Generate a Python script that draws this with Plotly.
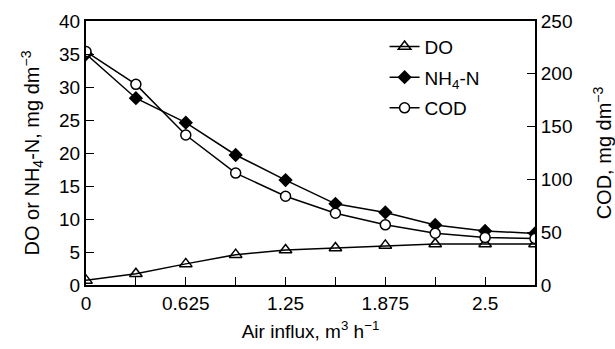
import plotly.graph_objects as go

air_influx = [0, 0.3125, 0.625, 0.9375, 1.25, 1.5625, 1.875, 2.1875, 2.5, 2.8125]
do_vals = [0.7, 1.7, 3.2, 4.6, 5.3, 5.6, 6.0, 6.2, 6.2, 6.2]
nh4_vals = [35.0, 28.3, 24.6, 19.7, 15.9, 12.3, 11.0, 9.1, 8.2, 7.8]
cod_vals = [221, 190, 142, 106, 84, 68, 57, 49, 45, 44]

x_tickvals = [0, 0.625, 1.25, 1.875, 2.5]
x_ticktext = ["0", "0.625", "1.25", "1.875", "2.5"]
left_ticks = [0, 5, 10, 15, 20, 25, 30, 35, 40]
right_ticks = [0, 50, 100, 150, 200, 250]

FONT = "Liberation Sans, Arial, Helvetica, sans-serif"
line = dict(color="black", width=1.5)

fig = go.Figure()
fig.add_trace(go.Scatter(
    x=air_influx, y=do_vals, name="DO", mode="lines+markers", line=line,
    marker=dict(symbol="triangle-up-open", size=11, color="black", line=dict(width=1.5, color="black")),
    legendgroup="a"))
fig.add_trace(go.Scatter(
    x=air_influx, y=nh4_vals, name="NH<sub>4</sub>-N", mode="lines+markers", line=line,
    marker=dict(symbol="diamond", size=11, color="black"),
    legendgroup="b"))
fig.add_trace(go.Scatter(
    x=air_influx, y=cod_vals, name="COD", mode="lines+markers", line=line, yaxis="y2",
    marker=dict(symbol="circle", size=10, color="white", line=dict(width=1.5, color="black")),
    legendgroup="c"))

fig.update_layout(
    width=615, height=349,
    margin=dict(l=86, r=80, t=21, b=64),
    paper_bgcolor="white", plot_bgcolor="white",
    font=dict(family=FONT, size=19, color="black"),
    showlegend=True,
    legend=dict(x=0.665, y=0.975, xanchor="left", yanchor="top",
                bgcolor="rgba(0,0,0,0)", tracegroupgap=3,
                font=dict(size=19)),
    xaxis=dict(range=[0, 2.8125], tickvals=x_tickvals, ticktext=x_ticktext,
               ticks="inside", ticklen=8, tickwidth=1.2, tickcolor="black",
               minor=dict(tickvals=air_influx, ticks="inside", ticklen=8,
                          tickwidth=1.2, tickcolor="black", showgrid=False),
               showline=True, linecolor="black", linewidth=2, mirror=True,
               showgrid=False, zeroline=False, automargin=False,
               title=dict(text="Air influx, m<sup>3</sup> h<sup>−1</sup>", standoff=12, font=dict(size=19))),
    yaxis=dict(range=[0, 40], tickvals=left_ticks,
               ticks="inside", ticklen=8, tickwidth=1.2, tickcolor="black",
               showline=True, linecolor="black", linewidth=2,
               showgrid=False, zeroline=False, automargin=False,
               title=dict(text="DO or NH<sub>4</sub>-N, mg dm<sup>−3</sup>", standoff=14, font=dict(size=20))),
    yaxis2=dict(range=[0, 250], tickvals=right_ticks, overlaying="y", side="right",
                ticks="inside", ticklen=8, tickwidth=1.2, tickcolor="black",
                showline=True, linecolor="black", linewidth=2,
                showgrid=False, zeroline=False, automargin=False,
                title=dict(text="COD, mg dm<sup>−3</sup>", standoff=26, font=dict(size=20))),
)

fig.write_html("out.html", config={"displayModeBar": False},
               post_script="document.body.style.margin='0';document.body.style.padding='0';")
